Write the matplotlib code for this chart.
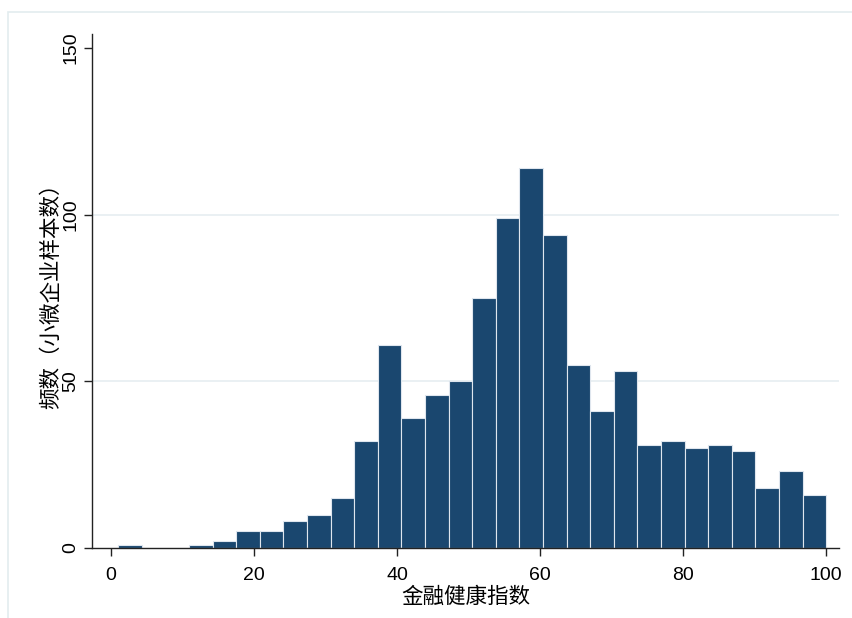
import numpy as np
import matplotlib
matplotlib.use('Agg')
import matplotlib.pyplot as plt
from matplotlib.patches import Rectangle

plt.rcParams['font.family'] = ['Liberation Sans', 'Noto Sans CJK SC', 'DejaVu Sans']

# histogram data: 30 equal bins between the min and max index value
bin_lo, bin_hi = 1.0, 100.0
counts = [1, 0, 0, 1, 2, 5, 5, 8, 10, 15,
          32, 61, 39, 46, 50, 75, 99, 114, 94, 55,
          41, 53, 31, 32, 30, 31, 29, 18, 23, 16]
x_ticks = [0, 20, 40, 60, 80, 100]
y_ticks = [0, 50, 100, 150]
x_label = '金融健康指数'
y_label = '频数（小微企业样本数）'

edges = np.linspace(bin_lo, bin_hi, len(counts) + 1)
widths = np.diff(edges)

W, H = 853, 618
fig = plt.figure(figsize=(W / 100, H / 100), dpi=100)

# stata-like light frame around the graph region
fig.patches.append(Rectangle((8 / W, -0.1), 1.2, (H - 12) / H + 0.1,
                             transform=fig.transFigure, fill=False,
                             edgecolor='#e3ecef', linewidth=1.2))

ax = fig.add_axes([92 / W, (H - 548) / H, (839 - 92) / W, (548 - 34) / H])

ax.hlines(y_ticks[1:-1], -10, 110, color='#e6eef1', linewidth=1.2, zorder=0)
ax.bar(edges[:-1], counts, width=widths, align='edge',
       color='#1a476f', edgecolor='#dfe6ee', linewidth=0.8, zorder=2)

ax.set_xlim(-2.66, 101.8)
ax.set_ylim(0, 154.2)

for s in ['top', 'right']:
    ax.spines[s].set_visible(False)
for s in ['left', 'bottom']:
    ax.spines[s].set_color('#222222')
    ax.spines[s].set_linewidth(1.0)

ax.set_xticks(x_ticks)
ax.set_yticks(y_ticks)
ax.tick_params(axis='both', direction='out', length=6, width=1.0,
               color='#222222', labelsize=14)
ax.tick_params(axis='x', pad=8)
ax.tick_params(axis='y', pad=3)
for lab in ax.get_yticklabels():
    lab.set_rotation(90)
    lab.set_va('center')

ax.set_xlabel(x_label, fontsize=15.5, family=['Noto Sans CJK SC', 'DejaVu Sans'], labelpad=1)
ax.set_ylabel(y_label, fontsize=15.5, family=['Noto Sans CJK SC', 'DejaVu Sans'], labelpad=0)

fig.savefig('out.png', dpi=100)
